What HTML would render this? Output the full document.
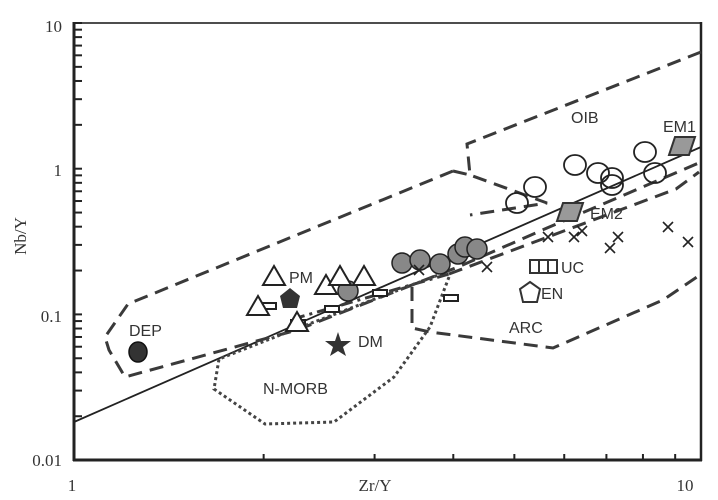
<!DOCTYPE html>
<html><head><meta charset="utf-8"><style>
html,body{margin:0;padding:0;background:#fff;}
svg{display:block;}
.s{font-family:"Liberation Serif",serif;font-size:17px;fill:#333;}
.a{font-family:"Liberation Sans",sans-serif;font-size:16px;fill:#333;}
</style></head><body>
<svg width="718" height="500" viewBox="0 0 718 500" xmlns="http://www.w3.org/2000/svg">
<rect width="718" height="500" fill="#fff"/>
<g id="ticks" stroke="#222" stroke-width="2"></g>
<rect x="74" y="23" width="627" height="437" fill="none" stroke="#222" stroke-width="1.6"/>
<line x1="74" y1="22" x2="74" y2="461" stroke="#222" stroke-width="3"/>
<line x1="73" y1="460" x2="702" y2="460" stroke="#222" stroke-width="3"/>
<line x1="701" y1="22" x2="701" y2="461" stroke="#222" stroke-width="2.5"/>
<line x1="74" y1="422" x2="701" y2="147" stroke="#222" stroke-width="1.8"/>
<g fill="none" stroke="#3a3a3a" stroke-width="3" stroke-dasharray="14,8">
<polyline points="453,171 128,304 105,337 109,350 125,377 297,330 458,267 547,228 701,162"/>
<polyline points="453,171 470,175"/>
<polyline points="701,52 467,144 470,175 547,203 470,215"/>
<polyline points="412,287 412,328 430,332 553,348 663,300 697,277"/>
<polyline points="449,274 676,189 699,172"/>
</g>
<polyline points="293,319 449,274" fill="none" stroke="#3a3a3a" stroke-width="3" stroke-dasharray="12,5,3,5"/>
<polyline points="449,277 430,327 394,377 334,422 265,424 214,389 219,359 293,330 441,274" fill="none" stroke="#444" stroke-width="3" stroke-dasharray="3,3"/>
<ellipse cx="138" cy="352" rx="9" ry="10" fill="#333" stroke="#111" stroke-width="1.5"/>
<g fill="#fff" stroke="#222" stroke-width="2">
<rect x="262" y="303" width="14" height="6"/><rect x="325" y="306" width="14" height="6"/><rect x="373" y="290" width="14" height="6"/><rect x="444" y="295" width="14" height="6"/><rect x="291" y="320" width="14" height="6"/>
</g>
<circle cx="348" cy="291" r="10" fill="#888" stroke="#222" stroke-width="1.5"/>
<g fill="#fff" stroke="#222" stroke-width="2">
<polygon points="274,266 263,285 285,285"/><polygon points="326,275 315,294 337,294"/><polygon points="340,266 329,285 351,285"/><polygon points="364,266 353,285 375,285"/><polygon points="258,296 247,315 269,315"/><polygon points="297,312 286,331 308,331"/>
</g>
<polygon points="290,288 300,296 297,308 283,308 280,296" fill="#333"/>
<polygon points="338,332 341,341 351,341 343,347 346,356 338,351 330,356 333,347 325,341 335,341" fill="#333"/>
<g fill="#888" stroke="#222" stroke-width="1.5">
<circle cx="402" cy="263" r="10"/><circle cx="420" cy="260" r="10"/><circle cx="440" cy="264" r="10"/><circle cx="458" cy="254" r="10"/><circle cx="465" cy="247" r="10"/><circle cx="477" cy="249" r="10"/>
</g>
<g stroke="#222" stroke-width="1.6" id="xs"></g>
<g fill="none" stroke="#222" stroke-width="1.8">
<ellipse cx="517" cy="203" rx="11" ry="10"/><ellipse cx="535" cy="187" rx="11" ry="10"/><ellipse cx="575" cy="165" rx="11" ry="10"/><ellipse cx="598" cy="173" rx="11" ry="10"/><ellipse cx="612" cy="178" rx="11" ry="10"/><ellipse cx="612" cy="185" rx="11" ry="10"/><ellipse cx="645" cy="152" rx="11" ry="10"/><ellipse cx="655" cy="173" rx="11" ry="10"/>
</g>
<polygon points="563,203 583,203 577,221 557,221" fill="#999" stroke="#333" stroke-width="2"/>
<polygon points="675,137 695,137 689,155 669,155" fill="#999" stroke="#333" stroke-width="2"/>
<rect x="530" y="260" width="27" height="13" fill="#fff" stroke="#333" stroke-width="2"/>
<line x1="539" y1="260" x2="539" y2="273" stroke="#333" stroke-width="2"/><line x1="548" y1="260" x2="548" y2="273" stroke="#333" stroke-width="2"/>
<polygon points="530,282 540,289 537,302 523,302 520,289" fill="#fff" stroke="#333" stroke-width="2"/>
<text class="a" x="129" y="336">DEP</text>
<text class="a" x="289" y="283">PM</text>
<text class="a" x="358" y="347">DM</text>
<text class="a" x="263" y="394">N-MORB</text>
<text class="a" x="571" y="123">OIB</text>
<text class="a" x="663" y="132">EM1</text>
<text class="a" x="590" y="219">EM2</text>
<text class="a" x="561" y="273">UC</text>
<text class="a" x="541" y="299">EN</text>
<text class="a" x="509" y="333">ARC</text>
<text class="s" x="62" y="32" text-anchor="end">10</text>
<text class="s" x="62" y="176" text-anchor="end">1</text>
<text class="s" x="62" y="322" text-anchor="end">0.1</text>
<text class="s" x="62" y="466" text-anchor="end">0.01</text>
<text class="s" x="72" y="491" text-anchor="middle">1</text>
<text class="s" x="685" y="491" text-anchor="middle">10</text>
<text class="s" x="375" y="491" text-anchor="middle">Zr/Y</text>
<text class="s" x="0" y="0" transform="translate(26,236) rotate(-90)" text-anchor="middle">Nb/Y</text>
</svg>
<script>
(function(){
var g=document.getElementById("ticks"),s="";
for(var d=0;d<3;d++){for(var m=2;m<=9;m++){var y=23+145.7*(3-d-Math.log10(m));s+='<line x1="74" y1="'+y+'" x2="82" y2="'+y+'"/>';}}
[0,1,2].forEach(function(d){var y=23+145.7*d;s+='<line x1="74" y1="'+y+'" x2="82" y2="'+y+'"/>';});
for(var m=2;m<=9;m++){var x=74+630*Math.log10(m);s+='<line x1="'+x+'" y1="460" x2="'+x+'" y2="454"/>';}
g.innerHTML=s;
var xs=[[419,270],[487,267],[548,237],[574,237],[582,231],[610,248],[618,237],[668,227],[688,242]],t="";
xs.forEach(function(p){var a=p[0],b=p[1];t+='<line x1="'+(a-5)+'" y1="'+(b-5)+'" x2="'+(a+5)+'" y2="'+(b+5)+'"/><line x1="'+(a-5)+'" y1="'+(b+5)+'" x2="'+(a+5)+'" y2="'+(b-5)+'"/>';});
document.getElementById("xs").innerHTML=t;
})();
</script>
</body></html>
